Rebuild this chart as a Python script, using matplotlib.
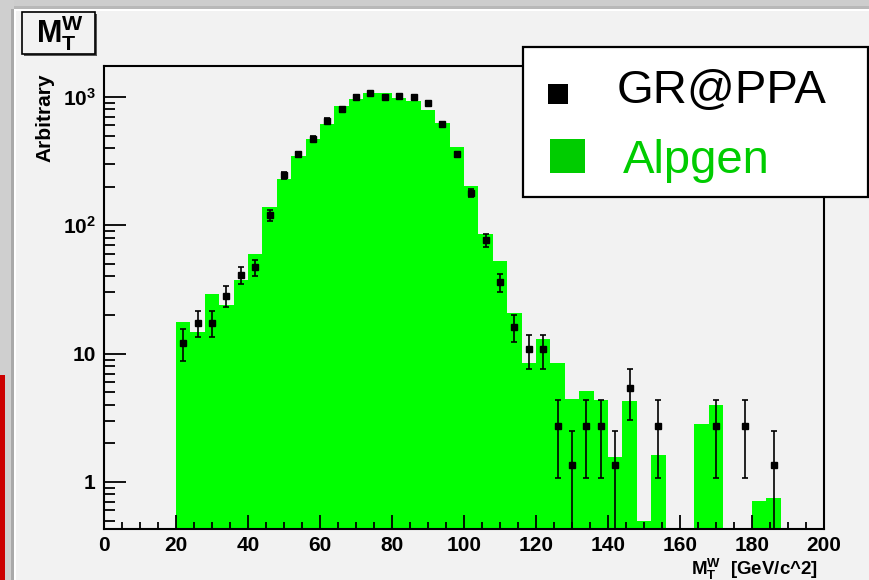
import matplotlib
matplotlib.use("Agg")
import matplotlib.pyplot as plt
import numpy as np
from matplotlib.patches import Rectangle
from matplotlib.ticker import MultipleLocator, LogLocator, FixedLocator, FixedFormatter, NullFormatter

plt.rcParams['font.family'] = ['Liberation Sans', 'DejaVu Sans']
plt.rcParams['mathtext.fontset'] = 'custom'
plt.rcParams['mathtext.rm'] = 'Liberation Sans:bold'
plt.rcParams['mathtext.bf'] = 'Liberation Sans:bold'
plt.rcParams['mathtext.it'] = 'Liberation Sans:bold'

# transverse mass bins (GeV/c^2), width 4
mass_edges = np.arange(20, 189, 4)

# Alpgen histogram (green)
alpgen = [17.7, 14.8, 29.0, 24.1, 37.8, 59.8, 138, 231, 344, 475,
          615, 854, 957, 1078, 1078, 986, 923, 795, 630, 405,
          201, 85.1, 52.5, 20.6, 8.48, 13.1, 8.48, 4.40, 5.08, 4.32,
          1.57, 4.29, 0.494, 1.61, 0, 0, 2.81, 4.0, 0, 0,
          0.711, 0.747]

# GR@PPA points (black), nan = empty bin
nan = float('nan')
grappa = [12.1, 17.4, 17.4, 28.2, 40.8, 47.1, 119.6, 246, 357, 472,
          656, 809, 997, 1071, 997, 1021, 997, 906, 611, 357,
          178, 76.4, 36.2, 16.2, 10.8, 10.8, 2.73, 1.36, 2.73, 2.73,
          1.36, 5.36, nan, 2.73, nan, nan, nan, 2.73, nan, 2.73,
          nan, 1.36]
grappa_err = [3.4, 4.0, 4.0, 5.2, 6.2, 6.7, 11, 15, 18, 21,
              25, 28, 31, 32, 31, 31, 31, 29, 24, 18,
              13, 8.5, 5.8, 3.9, 3.2, 3.2, 1.65, 1.13, 1.65, 1.65,
              1.13, 2.3, nan, 1.65, nan, nan, nan, 1.65, nan, 1.65,
              nan, 1.13]

bg = '#f2f2f2'
W, H = 870, 580
fig = plt.figure(figsize=(8.7, 5.8), dpi=100, facecolor=bg)

ax = fig.add_axes([104 / W, 1 - 529 / H, 720 / W, 463 / H], facecolor=bg)
centers = (mass_edges[:-1] + mass_edges[1:]) / 2
ax.bar(centers, alpgen, width=4, color='#00ff00', linewidth=0, antialiased=False, zorder=1)
ax.errorbar(centers, grappa, yerr=grappa_err, fmt='s', color='black', ms=4.5,
            elinewidth=1.2, capsize=2.2, capthick=1.2, zorder=3)

ax.set_yscale('log')
ax.set_xlim(0, 200)
ax.set_ylim(0.43, 1745)

ax.xaxis.set_major_locator(MultipleLocator(20))
ax.xaxis.set_minor_locator(MultipleLocator(5))
ax.yaxis.set_major_locator(FixedLocator([1, 10, 100, 1000]))
ax.yaxis.set_major_formatter(FixedFormatter(['1', '10', r'$10^{2}$', r'$10^{3}$']))
ax.yaxis.set_minor_locator(LogLocator(base=10, subs=np.arange(2, 10)))
ax.yaxis.set_minor_formatter(NullFormatter())

ax.tick_params(axis='x', which='major', direction='in', length=10, width=1.3,
               labelsize=15, pad=5, top=False)
ax.tick_params(axis='x', which='minor', direction='in', length=5, width=1.3, top=False)
ax.tick_params(axis='y', which='major', direction='in', length=15.5, width=1.3,
               labelsize=15, pad=6, right=False)
ax.tick_params(axis='y', which='minor', direction='in', length=8, width=1.3, right=False)
for lab in ax.get_xticklabels() + ax.get_yticklabels():
    lab.set_fontweight('bold')
for s in ax.spines.values():
    s.set_linewidth(1.5)
    s.set_zorder(4)

# overlay in pixel coordinates for frame decorations, title and legend
ov = fig.add_axes([0, 0, 1, 1], facecolor='none')
ov.set_xlim(0, W)
ov.set_ylim(H, 0)
ov.axis('off')

ov.add_patch(Rectangle((0, 0), W, 9, color='#cdcdcd', lw=0))
ov.add_patch(Rectangle((0, 6), W, 3, color='#b8b8b8', lw=0))
ov.add_patch(Rectangle((14, 9), W, 2, color='white', lw=0))
ov.add_patch(Rectangle((0, 0), 14, H, color='#cfcfcf', lw=0))
ov.add_patch(Rectangle((11, 9), 3, H, color='#a9a9a9', lw=0))
ov.add_patch(Rectangle((14, 9), 2, H, color='white', lw=0))
ov.add_patch(Rectangle((0, 375), 5, H - 375, color='#cc0000', lw=0))

# title box
ov.add_patch(Rectangle((24, 14), 73, 42, facecolor='#555555', lw=0))
ov.add_patch(Rectangle((22, 12), 73, 42, facecolor=bg, edgecolor='black', lw=1.2))
ov.text(36, 33, r'$\mathbf{M_{T}^{W}}$', fontsize=22, ha='left', va='center')

# axis titles
ov.text(45, 118, 'Arbitrary', rotation=90, fontsize=15, fontweight='bold',
        ha='center', va='center')
ov.text(818, 569, r'$\mathbf{M_{T}^{W}}$  [GeV/c^2]', fontsize=13.5, fontweight='bold',
        ha='right', va='center')

# legend
ov.add_patch(Rectangle((523, 47), 345, 150, facecolor='white', edgecolor='black', lw=1.6, zorder=5))
ov.add_patch(Rectangle((548, 84), 20, 20, facecolor='black', lw=0, zorder=6))
ov.add_patch(Rectangle((550, 139), 35, 34, facecolor='#00cc00', lw=0, zorder=6))
ov.text(617, 103, 'GR@PPA', fontsize=34, color='black', va='baseline', zorder=6)
ov.text(623, 173, 'Alpgen', fontsize=34, color='#00cc00', va='baseline', zorder=6)

fig.savefig('out.png', dpi=100, facecolor=bg)
